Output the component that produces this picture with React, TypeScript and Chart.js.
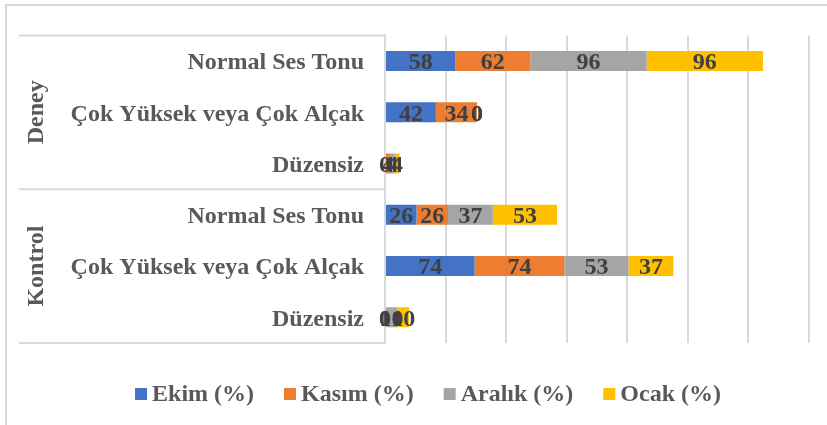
import React, { useEffect, useRef } from "react";
import { Chart, registerables } from "chart.js";

Chart.register(...registerables);

const groups = ["Deney", "Kontrol"];
const categories = [
  "Normal Ses Tonu",
  "Çok Yüksek veya Çok Alçak",
  "Düzensiz",
  "Normal Ses Tonu",
  "Çok Yüksek veya Çok Alçak",
  "Düzensiz",
];
const seriesNames = ["Ekim (%)", "Kasım (%)", "Aralık (%)", "Ocak (%)"];
const ekim = [58, 42, 0, 26, 74, 0];
const kasim = [62, 34, 4, 26, 74, 0];
const aralik = [96, 0, 4, 37, 53, 10];
const ocak = [96, 0, 4, 53, 37, 10];
const colors = ["#4472C4", "#ED7D31", "#A5A5A5", "#FFC000"];
const xMax = 350;
const xStep = 50;

const FONT = "'Liberation Serif', 'Times New Roman', serif";
const LINE = "#d9d9d9";

const decorPlugin = {
  id: "decor",
  beforeDraw(chart: any) {
    const { ctx } = chart;
    ctx.save();
    ctx.strokeStyle = LINE;
    ctx.lineWidth = 2;
    ctx.beginPath();
    ctx.moveTo(5, 5);
    ctx.lineTo(chart.width, 5);
    ctx.moveTo(6, 5);
    ctx.lineTo(6, chart.height);
    ctx.stroke();
    ctx.restore();
  },
  afterDraw(chart: any) {
    const { ctx, chartArea } = chart;
    const left = 19;
    const right = chartArea.left;
    const n = categories.length;
    const per = n / groups.length;
    const rowH = (chartArea.bottom - chartArea.top) / n;
    ctx.save();
    ctx.strokeStyle = LINE;
    ctx.lineWidth = 2;
    ctx.beginPath();
    for (let g = 0; g <= groups.length; g++) {
      const y = chartArea.top + g * per * rowH;
      ctx.moveTo(left, y);
      ctx.lineTo(right, y);
    }
    ctx.stroke();
    ctx.fillStyle = "#595959";
    ctx.font = `bold 24px ${FONT}`;
    ctx.textAlign = "center";
    ctx.textBaseline = "middle";
    groups.forEach((g, i) => {
      const yc = chartArea.top + (i + 0.5) * per * rowH;
      ctx.save();
      ctx.translate(37, yc);
      ctx.rotate(-Math.PI / 2);
      ctx.fillText(g, 0, 0);
      ctx.restore();
    });

    // legend
    ctx.font = `bold 24px ${FONT}`;
    const sq = 12;
    const gapSq = 5;
    const gapItem = 30;
    const widths = seriesNames.map((s) => ctx.measureText(s).width);
    const total =
      widths.reduce((a, b) => a + b, 0) + seriesNames.length * (sq + gapSq) + (seriesNames.length - 1) * gapItem;
    let x = 428 - total / 2;
    const ly = 394;
    ctx.textAlign = "left";
    seriesNames.forEach((s, i) => {
      ctx.fillStyle = colors[i];
      ctx.fillRect(x, ly - sq / 2, sq, sq);
      x += sq + gapSq;
      ctx.fillStyle = "#595959";
      ctx.fillText(s, x, ly + 1);
      x += widths[i] + gapItem;
    });
    ctx.restore();
  },
  afterDatasetsDraw(chart: any) {
    const { ctx } = chart;
    ctx.save();
    ctx.font = `bold 24px ${FONT}`;
    ctx.fillStyle = "#404040";
    ctx.textAlign = "center";
    ctx.textBaseline = "middle";
    chart.data.datasets.forEach((ds: any, di: number) => {
      const meta = chart.getDatasetMeta(di);
      meta.data.forEach((el: any, i: number) => {
        const v = ds.data[i];
        const cx = (el.x + el.base) / 2;
        ctx.fillText(String(v), cx, el.y + 2);
      });
    });
    ctx.restore();
  },
};

export default function App() {
  const ref = useRef<HTMLCanvasElement | null>(null);
  useEffect(() => {
    if (!ref.current) return;
    const values = [ekim, kasim, aralik, ocak];
    const chart = new Chart(ref.current, {
      type: "bar",
      data: {
        labels: categories,
        datasets: seriesNames.map((name, i) => ({
          label: name,
          data: values[i],
          backgroundColor: colors[i],
          borderWidth: 0,
          barPercentage: 0.39,
          categoryPercentage: 1,
        })),
      },
      options: {
        indexAxis: "y",
        animation: false,
        responsive: false,
        devicePixelRatio: 1,
        layout: { padding: { top: 34, right: 18, bottom: 82, left: 0 } },
        plugins: {
          legend: { display: false },
          tooltip: { enabled: false },
        },
        scales: {
          x: {
            stacked: true,
            min: 0,
            max: xMax,
            ticks: { display: false, stepSize: xStep },
            grid: { color: LINE, lineWidth: 2, drawTicks: false },
            border: { display: false },
          },
          y: {
            stacked: true,
            afterFit: (scale: any) => {
              scale.width = 385;
            },
            ticks: {
              color: "#595959",
              font: { family: FONT, size: 24, weight: "bold" },
              padding: 21,
              labelOffset: 2,
            },
            grid: { display: false, drawTicks: false },
            border: { display: true, color: LINE, width: 2 },
          },
        },
      },
      plugins: [decorPlugin],
    } as any);
    return () => chart.destroy();
  }, []);
  return (
    <div style={{ position: "fixed", left: 0, top: 0, width: 827, height: 425, background: "#fff" }}>
      <canvas ref={ref} width={827} height={425} />
    </div>
  );
}
